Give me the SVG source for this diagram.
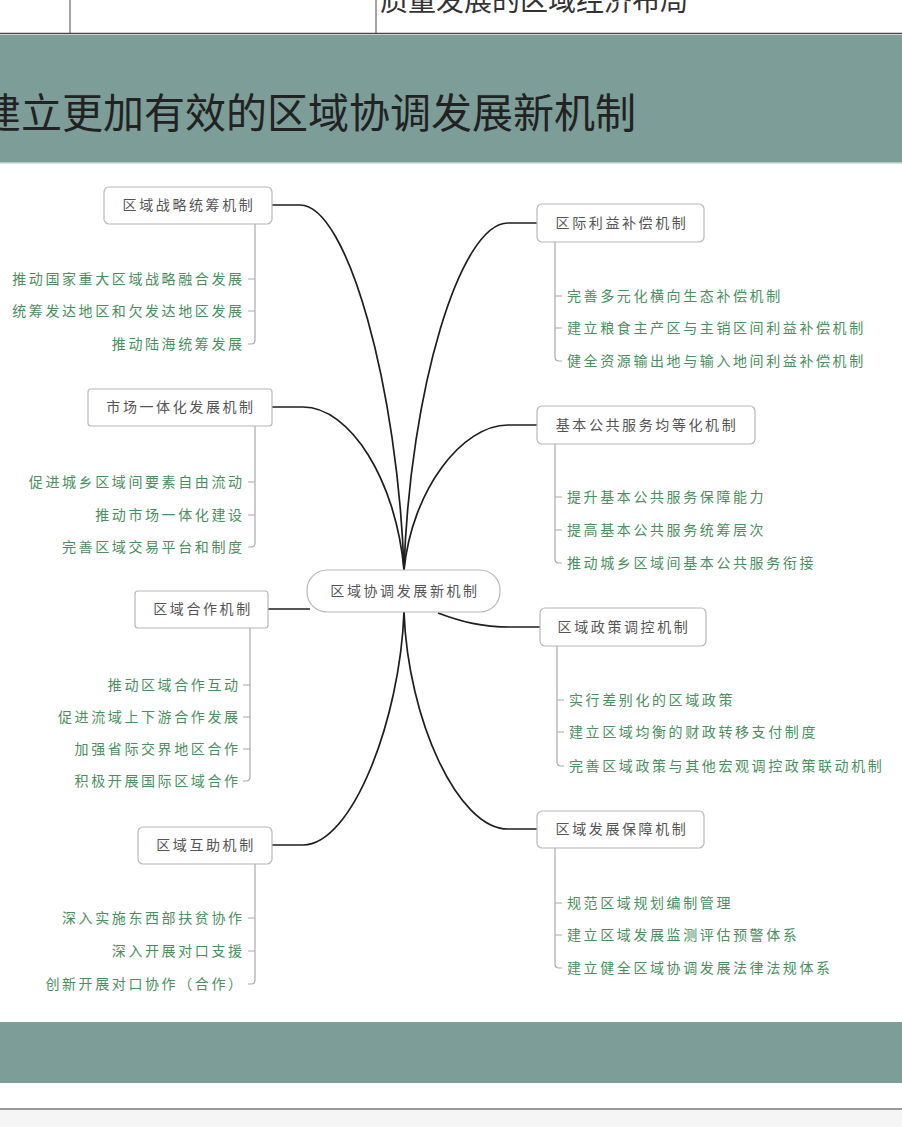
<svg xmlns="http://www.w3.org/2000/svg" width="902" height="1127" viewBox="0 0 902 1127">
<style>
.band{fill:#7d9d98}
.node rect{fill:#fff;stroke:#b8b8b8;stroke-width:1.2}
.lbl{font-family:"Liberation Serif","Noto Sans CJK SC",serif;font-size:14px;fill:#555;letter-spacing:2.6px}
.kid{font-family:"Liberation Serif","Noto Sans CJK SC",serif;font-size:14px;fill:#4a8f5e;letter-spacing:2.6px}
.br{fill:none;stroke:#aaa;stroke-width:1.2}
.con{fill:none;stroke:#1e1e1e;stroke-width:1.7}
</style>
<rect x="0" y="0" width="902" height="1127" fill="#fff"/>
<g id="top-table">
<line x1="70" y1="0" x2="70" y2="33" stroke="#666" stroke-width="1.2"/>
<line x1="376" y1="0" x2="376" y2="33" stroke="#666" stroke-width="1.2"/>
<text x="380" y="11" font-family="'Noto Sans CJK SC',sans-serif" font-size="28" fill="#333">质量发展的区域经济布局</text>
<line x1="0" y1="33.5" x2="902" y2="33.5" stroke="#444" stroke-width="1.5"/>
</g>
<g id="header">
<rect class="band" x="0" y="35" width="902" height="128"/>
<line x1="0" y1="163" x2="902" y2="163" stroke="#c9d8d5" stroke-width="1.5"/>
<text x="-20" y="128" font-family="'Noto Sans CJK SC',sans-serif" font-size="41" fill="#222">建立更加有效的区域协调发展新机制</text>
</g>
<g id="footer">
<rect class="band" x="0" y="1022" width="902" height="61"/>
<line x1="0" y1="1109" x2="902" y2="1109" stroke="#9a9a9a" stroke-width="2"/>
<rect x="0" y="1110" width="902" height="17" fill="#f5f5f5"/>
</g>
<g id="connectors">
<path class="con" d="M272,205 L300,205 C348,205 398,390 404,570"/>
<path class="con" d="M272,407 L303,407 C350,407 396,480 404,570"/>
<path class="con" d="M268,609 L310,609"/>
<path class="con" d="M272,845 L303,845 C352,845 400,720 404,612"/>
<path class="con" d="M537,223 L508,223 C460,223 410,390 404,570"/>
<path class="con" d="M537,425 L508,425 C462,425 412,490 404,570"/>
<path class="con" d="M438,613 C462,622 482,627 510,627 L540,627"/>
<path class="con" d="M537,829 L508,829 C458,829 408,720 404,612"/>
</g>
<g id="center">
<rect x="307" y="570" width="193" height="42" rx="20" fill="#fff" stroke="#b8b8b8" stroke-width="1.2"/>
<text class="lbl" x="405" y="596" text-anchor="middle">区域协调发展新机制</text>
</g>
<g id="n-zhanlue" class="node">
<rect x="104" y="187" width="168" height="37" rx="5"/>
<text class="lbl" x="189" y="210" text-anchor="middle">区域战略统筹机制</text>
<path class="br" d="M255,224 V340 Q255,344 251,344 H248 M248,279 H255 M248,311 H255"/>
<text class="kid" x="244.6" y="284" text-anchor="end">推动国家重大区域战略融合发展</text>
<text class="kid" x="244.6" y="316" text-anchor="end">统筹发达地区和欠发达地区发展</text>
<text class="kid" x="244.6" y="349" text-anchor="end">推动陆海统筹发展</text>
</g>
<g id="n-shichang" class="node">
<rect x="88" y="389" width="184" height="37" rx="3"/>
<text class="lbl" x="181" y="412" text-anchor="middle">市场一体化发展机制</text>
<path class="br" d="M255,426 V543 Q255,547 251,547 H248 M248,482 H255 M248,515 H255"/>
<text class="kid" x="244.6" y="487" text-anchor="end">促进城乡区域间要素自由流动</text>
<text class="kid" x="244.6" y="520" text-anchor="end">推动市场一体化建设</text>
<text class="kid" x="244.6" y="552" text-anchor="end">完善区域交易平台和制度</text>
</g>
<g id="n-hezuo" class="node">
<rect x="135" y="591" width="133" height="37" rx="3"/>
<text class="lbl" x="203" y="614" text-anchor="middle">区域合作机制</text>
<path class="br" d="M250,628 V777 Q250,781 246,781 H243 M243,685 H250 M243,717 H250 M243,749 H250"/>
<text class="kid" x="240.6" y="690" text-anchor="end">推动区域合作互动</text>
<text class="kid" x="240.6" y="722" text-anchor="end">促进流域上下游合作发展</text>
<text class="kid" x="240.6" y="754" text-anchor="end">加强省际交界地区合作</text>
<text class="kid" x="240.6" y="786" text-anchor="end">积极开展国际区域合作</text>
</g>
<g id="n-huzhu" class="node">
<rect x="138" y="827" width="134" height="37" rx="5"/>
<text class="lbl" x="206" y="850" text-anchor="middle">区域互助机制</text>
<path class="br" d="M255,864 V980 Q255,984 251,984 H248 M248,918 H255 M248,951 H255"/>
<text class="kid" x="244.6" y="923" text-anchor="end">深入实施东西部扶贫协作</text>
<text class="kid" x="244.6" y="956" text-anchor="end">深入开展对口支援</text>
<text class="kid" x="244.6" y="989" text-anchor="end">创新开展对口协作（合作）</text>
</g>
<g id="n-liji" class="node">
<rect x="537" y="204" width="167" height="38" rx="5"/>
<text class="lbl" x="622" y="228" text-anchor="middle">区际利益补偿机制</text>
<path class="br" d="M555,242 V357 Q555,361 559,361 H562 M555,296 H562 M555,328 H562"/>
<text class="kid" x="567" y="301">完善多元化横向生态补偿机制</text>
<text class="kid" x="567" y="333">建立粮食主产区与主销区间利益补偿机制</text>
<text class="kid" x="567" y="366">健全资源输出地与输入地间利益补偿机制</text>
</g>
<g id="n-gonggong" class="node">
<rect x="537" y="406" width="218" height="38" rx="5"/>
<text class="lbl" x="647" y="430" text-anchor="middle">基本公共服务均等化机制</text>
<path class="br" d="M555,444 V559 Q555,563 559,563 H562 M555,497 H562 M555,530 H562"/>
<text class="kid" x="567" y="502">提升基本公共服务保障能力</text>
<text class="kid" x="567" y="535">提高基本公共服务统筹层次</text>
<text class="kid" x="567" y="568">推动城乡区域间基本公共服务衔接</text>
</g>
<g id="n-zhengce" class="node">
<rect x="540" y="608" width="166" height="38" rx="5"/>
<text class="lbl" x="624" y="632" text-anchor="middle">区域政策调控机制</text>
<path class="br" d="M557,646 V762 Q557,766 561,766 H564 M557,700 H564 M557,732 H564"/>
<text class="kid" x="569" y="705">实行差别化的区域政策</text>
<text class="kid" x="569" y="737">建立区域均衡的财政转移支付制度</text>
<text class="kid" x="569" y="771">完善区域政策与其他宏观调控政策联动机制</text>
</g>
<g id="n-baozhang" class="node">
<rect x="537" y="811" width="167" height="37" rx="5"/>
<text class="lbl" x="622" y="834" text-anchor="middle">区域发展保障机制</text>
<path class="br" d="M555,848 V964 Q555,968 559,968 H562 M555,903 H562 M555,935 H562"/>
<text class="kid" x="567" y="908">规范区域规划编制管理</text>
<text class="kid" x="567" y="940">建立区域发展监测评估预警体系</text>
<text class="kid" x="567" y="973">建立健全区域协调发展法律法规体系</text>
</g>
</svg>
